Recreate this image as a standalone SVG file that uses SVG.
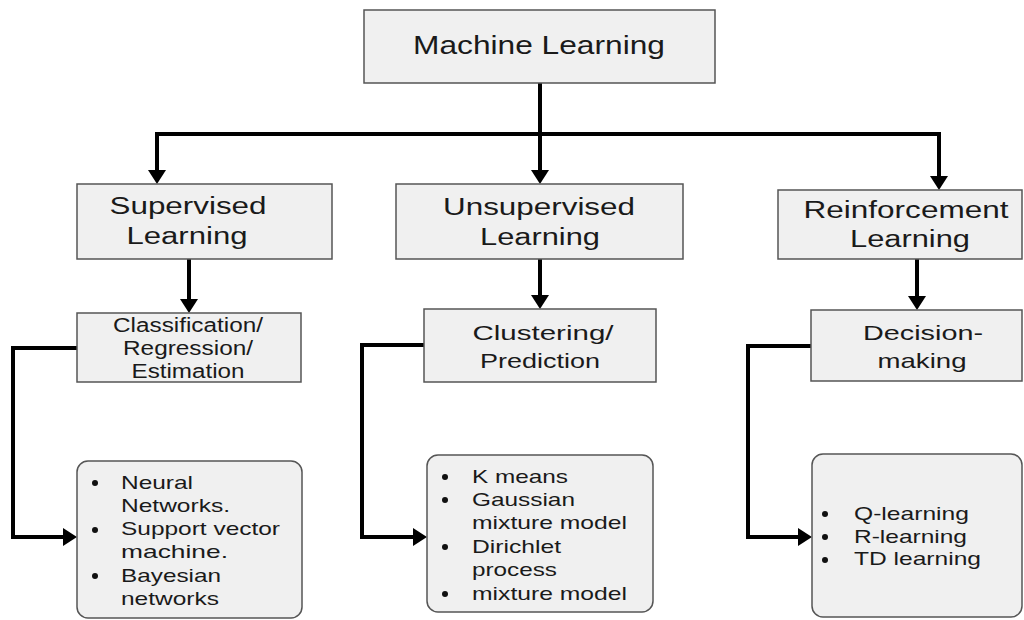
<svg xmlns="http://www.w3.org/2000/svg" width="1024" height="620" viewBox="0 0 1024 620">
<style>
.box{fill:#f0f0f0;stroke:#555;stroke-width:1.5}
.t{font-family:"Liberation Sans",Arial,sans-serif;fill:#1a1a1a;text-anchor:middle}
.l{font-family:"Liberation Sans",Arial,sans-serif;fill:#1a1a1a;font-size:19px}
.c{fill:none;stroke:#000;stroke-width:4}
.b{fill:#111}
</style>
<defs>
<marker id="ah" markerUnits="userSpaceOnUse" markerWidth="16" markerHeight="18" refX="4" refY="9" orient="auto">
<path d="M0,0 L14,9 L0,18 z" fill="#000"/>
</marker>
</defs>
<rect width="1024" height="620" fill="#fff"/>
<g id="connectors">
<path class="c" d="M540,83 V174" marker-end="url(#ah)"/>
<path class="c" d="M157,134 H939"/>
<path class="c" d="M157,132 V174" marker-end="url(#ah)"/>
<path class="c" d="M939,132 V180" marker-end="url(#ah)"/>
<path class="c" d="M189,259 V303" marker-end="url(#ah)"/>
<path class="c" d="M540,259 V299" marker-end="url(#ah)"/>
<path class="c" d="M917,259 V300" marker-end="url(#ah)"/>
<path class="c" d="M77,348 H13 V537 H67" marker-end="url(#ah)"/>
<path class="c" d="M424,345 H362 V537 H417" marker-end="url(#ah)"/>
<path class="c" d="M811,346 H748 V537 H802" marker-end="url(#ah)"/>
</g>
<g id="machine-learning">
<rect class="box" x="364" y="10" width="351" height="73"/>
<text class="t" x="539" y="54" font-size="26" textLength="252" lengthAdjust="spacingAndGlyphs">Machine Learning</text>
</g>
<g id="supervised">
<rect class="box" x="77" y="184" width="255" height="75"/>
<text class="t" x="188" y="214" font-size="23" textLength="157" lengthAdjust="spacingAndGlyphs">Supervised</text>
<text class="t" x="187" y="244" font-size="23" textLength="121" lengthAdjust="spacingAndGlyphs">Learning</text>
</g>
<g id="unsupervised">
<rect class="box" x="396" y="184" width="287" height="75"/>
<text class="t" x="539" y="215" font-size="23" textLength="192" lengthAdjust="spacingAndGlyphs">Unsupervised</text>
<text class="t" x="540" y="245" font-size="23" textLength="120" lengthAdjust="spacingAndGlyphs">Learning</text>
</g>
<g id="reinforcement">
<rect class="box" x="778" y="190" width="244" height="69"/>
<text class="t" x="906" y="218" font-size="23" textLength="205" lengthAdjust="spacingAndGlyphs">Reinforcement</text>
<text class="t" x="910" y="247" font-size="23" textLength="120" lengthAdjust="spacingAndGlyphs">Learning</text>
</g>
<g id="classification">
<rect class="box" x="77" y="313" width="224" height="69"/>
<text class="t" x="188" y="332" font-size="20" textLength="150" lengthAdjust="spacingAndGlyphs">Classification/</text>
<text class="t" x="188" y="355" font-size="20" textLength="130" lengthAdjust="spacingAndGlyphs">Regression/</text>
<text class="t" x="188" y="378" font-size="20" textLength="113" lengthAdjust="spacingAndGlyphs">Estimation</text>
</g>
<g id="clustering">
<rect class="box" x="424" y="309" width="232" height="73"/>
<text class="t" x="543" y="340" font-size="21" textLength="141" lengthAdjust="spacingAndGlyphs">Clustering/</text>
<text class="t" x="540" y="368" font-size="21" textLength="120" lengthAdjust="spacingAndGlyphs">Prediction</text>
</g>
<g id="decision">
<rect class="box" x="811" y="310" width="211" height="71"/>
<text class="t" x="923" y="340" font-size="21" textLength="120" lengthAdjust="spacingAndGlyphs">Decision-</text>
<text class="t" x="922" y="368" font-size="21" textLength="89" lengthAdjust="spacingAndGlyphs">making</text>
</g>
<g id="supervised-methods">
<rect class="box" x="77" y="461" width="225" height="157" rx="11"/>
<circle class="b" cx="95" cy="483" r="3"/>
<circle class="b" cx="95" cy="530" r="3"/>
<circle class="b" cx="95" cy="576" r="3"/>
<text class="l" x="121" y="489" textLength="72" lengthAdjust="spacingAndGlyphs">Neural</text>
<text class="l" x="121" y="512" textLength="109" lengthAdjust="spacingAndGlyphs">Networks.</text>
<text class="l" x="121" y="535" textLength="159" lengthAdjust="spacingAndGlyphs">Support vector</text>
<text class="l" x="121" y="558" textLength="107" lengthAdjust="spacingAndGlyphs">machine.</text>
<text class="l" x="121" y="582" textLength="100" lengthAdjust="spacingAndGlyphs">Bayesian</text>
<text class="l" x="121" y="605" textLength="98" lengthAdjust="spacingAndGlyphs">networks</text>
</g>
<g id="unsupervised-methods">
<rect class="box" x="427" y="455" width="226" height="157" rx="11"/>
<circle class="b" cx="445" cy="477" r="3"/>
<circle class="b" cx="445" cy="500" r="3"/>
<circle class="b" cx="445" cy="547" r="3"/>
<circle class="b" cx="445" cy="594" r="3"/>
<text class="l" x="472" y="483" textLength="96" lengthAdjust="spacingAndGlyphs">K means</text>
<text class="l" x="472" y="506" textLength="103" lengthAdjust="spacingAndGlyphs">Gaussian</text>
<text class="l" x="472" y="529" textLength="155" lengthAdjust="spacingAndGlyphs">mixture model</text>
<text class="l" x="472" y="553" textLength="89" lengthAdjust="spacingAndGlyphs">Dirichlet</text>
<text class="l" x="472" y="576" textLength="85" lengthAdjust="spacingAndGlyphs">process</text>
<text class="l" x="472" y="600" textLength="155" lengthAdjust="spacingAndGlyphs">mixture model</text>
</g>
<g id="reinforcement-methods">
<rect class="box" x="812" y="454" width="210" height="163" rx="11"/>
<circle class="b" cx="825" cy="514" r="3"/>
<circle class="b" cx="825" cy="537" r="3"/>
<circle class="b" cx="825" cy="560" r="3"/>
<text class="l" x="854" y="520" textLength="115" lengthAdjust="spacingAndGlyphs">Q-learning</text>
<text class="l" x="854" y="543" textLength="113" lengthAdjust="spacingAndGlyphs">R-learning</text>
<text class="l" x="854" y="565" textLength="127" lengthAdjust="spacingAndGlyphs">TD learning</text>
</g>
</svg>
